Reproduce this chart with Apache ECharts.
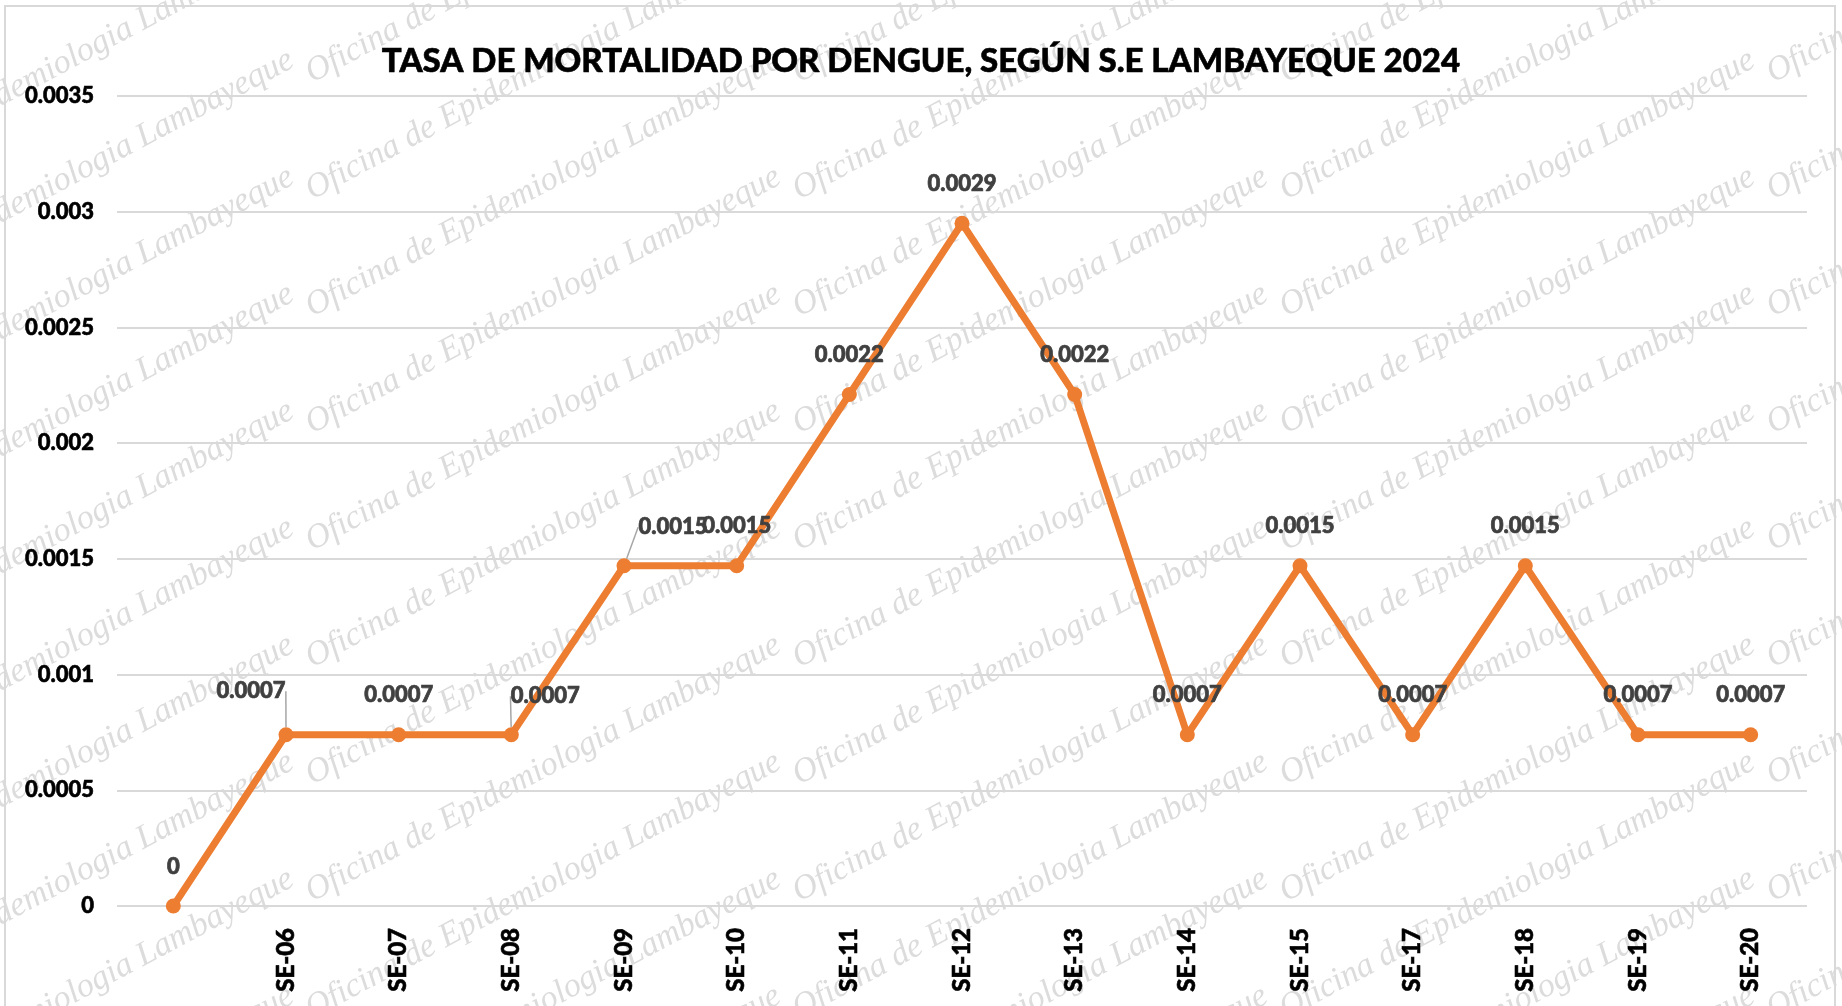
<!DOCTYPE html>
<html>
<head>
<meta charset="utf-8">
<title>Tasa de mortalidad por dengue</title>
<script src="https://cdn.jsdelivr.net/npm/echarts@6/dist/echarts.min.js"></script>
<style>
    html, body { margin: 0; padding: 0; background: #fff; }
    #chart { width: 1842px; height: 1006px; }
</style>
</head>
<body>
<div id="chart"></div>
<script>
// semanas epidemiologicas (la primera va sin rotulo)
const semanas = ['', 'SE-06', 'SE-07', 'SE-08', 'SE-09', 'SE-10', 'SE-11', 'SE-12', 'SE-13', 'SE-14', 'SE-15', 'SE-17', 'SE-18', 'SE-19', 'SE-20'];
// tasa de mortalidad por semana
const tasas = [0, 0.00074, 0.00074, 0.00074, 0.00147, 0.00147, 0.00221, 0.00295, 0.00221, 0.00074, 0.00147, 0.00074, 0.00147, 0.00074, 0.00074];
const yMax = 0.0035;
const yPaso = 0.0005;
const titulo = 'TASA DE MORTALIDAD POR DENGUE, SEGÚN S.E LAMBAYEQUE 2024';
const marcaAgua = 'Oficina de Epidemiologia Lambayeque';

let chart = echarts.init(document.getElementById('chart'));

// etiquetas movidas a mano como en el original (dx, dy)
let desplazadas = { 1: [-35, -4], 3: [34, 1], 4: [49, 1] };

// marca de agua en diagonal
let marcas = [];
for (let fila = -3; fila < 11; fila++) {
    for (let col = 0; col < 5; col++) {
        marcas.push({
            type: 'text',
            x: -187 + col * 487,
            y: 60 + fila * 117,
            rotation: 0.49,
            z: -10,
            silent: true,
            style: {
                text: marcaAgua,
                fill: '#dcdcdc',
                fontFamily: 'Liberation Serif',
                fontStyle: 'italic',
                fontSize: 34
            }
        });
    }
}
marcas.push({
    type: 'rect',
    z: -5,
    silent: true,
    shape: { x: 5, y: 6, width: 1830, height: 1010 },
    style: { fill: 'none', stroke: '#d9d9d9', lineWidth: 2 }
});

let option = {
    backgroundColor: '#fff',
    animation: false,
    title: {
        text: titulo,
        left: 'center',
        top: 38,
        textStyle: {
            fontFamily: 'Lato',
            fontWeight: 900,
            fontSize: 33,
            lineHeight: 36,
            color: '#000',
            textBorderColor: '#000',
            textBorderWidth: 0.6
        }
    },
    graphic: marcas,
    grid: {
        left: 117,
        right: 35,
        top: 96,
        bottom: 100
    },
    xAxis: {
        type: 'category',
        data: semanas,
        boundaryGap: true,
        axisLine: { show: false },
        axisTick: { show: false },
        axisLabel: {
            rotate: 90,
            margin: 22,
            interval: 0,
            fontFamily: 'Lato',
            fontWeight: 900,
            fontSize: 24,
            color: '#000',
            textBorderColor: '#000',
            textBorderWidth: 0.6
        }
    },
    yAxis: {
        type: 'value',
        min: 0,
        max: yMax,
        interval: yPaso,
        axisLine: { show: false },
        axisTick: { show: false },
        splitLine: { show: true, lineStyle: { color: '#d9d9d9', width: 2 } },
        axisLabel: {
            margin: 23,
            fontFamily: 'Lato',
            fontWeight: 900,
            fontSize: 22,
            color: '#000',
            textBorderColor: '#000',
            textBorderWidth: 0.6,
            formatter: function (value) {
                return parseFloat(value.toFixed(4)) + '';
            }
        }
    },
    series: [
        {
            type: 'line',
            data: tasas.map(function (v, i) {
                return desplazadas[i] ? { value: v, labelLine: { show: true } } : v;
            }),
            symbol: 'circle',
            symbolSize: 15,
            lineStyle: { color: '#ED7D31', width: 7 },
            itemStyle: { color: '#ED7D31' },
            label: {
                show: true,
                position: 'top',
                distance: 21,
                fontFamily: 'Lato',
                fontWeight: 900,
                fontSize: 22,
                lineHeight: 22,
                color: '#404040',
                textBorderColor: '#404040',
                textBorderWidth: 0.7,
                formatter: function (p) {
                    return p.value === 0 ? '0' : p.value.toFixed(4);
                }
            },
            labelLine: {
                lineStyle: { color: '#a6a6a6', width: 1.5 }
            },
            labelLayout: function (p) {
                let d = desplazadas[p.dataIndex];
                return d ? { dx: d[0], dy: d[1] } : {};
            }
        }
    ]
};
chart.setOption(option, true);
</script>
</body>
</html>
